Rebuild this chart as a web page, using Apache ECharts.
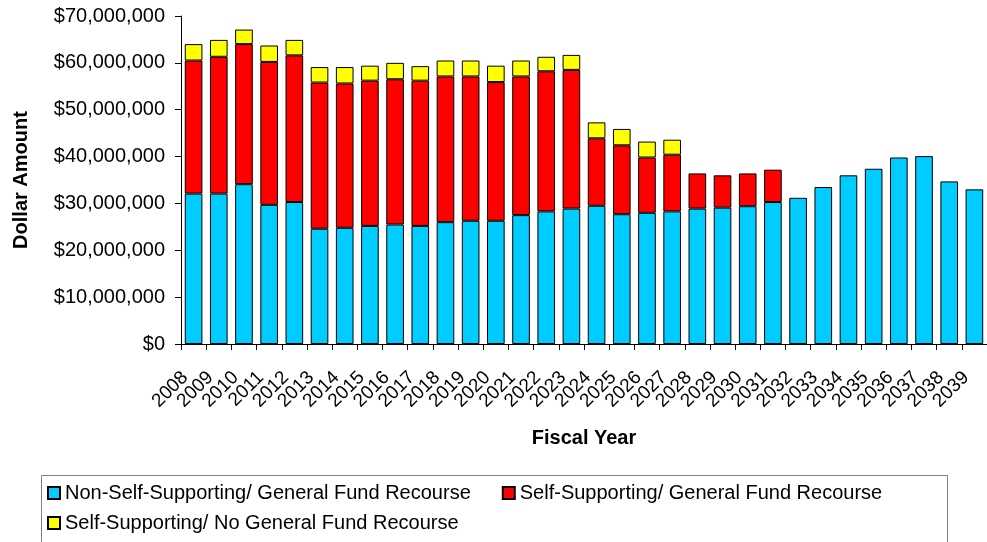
<!DOCTYPE html>
<html>
<head>
<meta charset="utf-8">
<script src="https://cdn.jsdelivr.net/npm/echarts@6/dist/echarts.min.js"></script>
<style>
  html, body { margin: 0; padding: 0; background: #fff; }
  #chart { width: 987px; height: 542px; }
</style>
</head>
<body>
<div id="chart"></div>
<script>
// fiscal years
var years = ['2008', '2009', '2010', '2011', '2012', '2013', '2014', '2015', '2016', '2017',
  '2018', '2019', '2020', '2021', '2022', '2023', '2024', '2025', '2026', '2027',
  '2028', '2029', '2030', '2031', '2032', '2033', '2034', '2035', '2036', '2037',
  '2038', '2039']

// values in millions of dollars
var nonSelfGF = [32.1, 32.1, 34.1, 29.7, 30.3, 24.6, 24.8, 25.2, 25.5, 25.2,
  26.0, 26.3, 26.3, 27.5, 28.3, 28.9, 29.5, 27.7, 28.0, 28.3,
  28.9, 29.1, 29.4, 30.3, 31.2, 33.5, 36.0, 37.4, 39.8, 40.1,
  34.7, 33.0]
var selfGF = [28.4, 29.2, 29.9, 30.5, 31.3, 31.2, 30.8, 31.0, 31.0, 31.0,
  31.1, 30.8, 29.6, 29.6, 29.9, 29.6, 14.4, 14.7, 11.8, 12.1,
  7.5, 6.9, 7.0, 6.9, null, null, null, null, null, null,
  null, null]
var selfNoGF = [3.5, 3.6, 3.1, 3.5, 3.3, 3.3, 3.5, 3.2, 3.5, 3.1,
  3.4, 3.4, 3.5, 3.4, 3.1, 3.2, 3.4, 3.5, 3.4, 3.2,
  null, null, null, null, null, null, null, null, null, null,
  null, null]

var seriesNames = ['Non-Self-Supporting/ General Fund Recourse',
  'Self-Supporting/ General Fund Recourse',
  'Self-Supporting/ No General Fund Recourse']

function toDollars(arr) {
  return arr.map(function (v) { return v == null ? '-' : v * 1000000 })
}

var font = 'Liberation Sans, Arial, sans-serif'

var legendBase = {
  left: 42,
  itemWidth: 12,
  itemHeight: 12,
  icon: 'rect',
  textStyle: { fontSize: 20, fontFamily: font, color: '#000' }
}

var myechart = echarts.init(document.getElementById('chart'))
var option = {
  backgroundColor: '#ffffff',
  animation: false,
  textStyle: { fontFamily: font, color: '#000' },
  grid: {
    left: 181,
    right: -6,
    top: 16,
    bottom: 198,
    containLabel: false
  },
  // two legends so the rows keep excel's spacing
  legend: [
    Object.assign({}, legendBase, { top: 478, itemGap: 31, data: seriesNames.slice(0, 2) }),
    Object.assign({}, legendBase, { top: 508, data: seriesNames.slice(2) })
  ],
  graphic: [{
    type: 'rect',
    shape: { x: 41.5, y: 475.5, width: 906, height: 90 },
    style: { fill: 'none', stroke: '#808080', lineWidth: 1 },
    silent: true
  }],
  xAxis: {
    type: 'category',
    data: years,
    name: 'Fiscal Year',
    nameLocation: 'middle',
    nameGap: 84,
    nameTextStyle: { fontSize: 20, fontWeight: 'bold', fontFamily: font, color: '#000' },
    axisLine: { lineStyle: { color: '#000', width: 1 } },
    axisTick: { show: true, length: 6, lineStyle: { color: '#000' } },
    axisLabel: {
      interval: 0,
      rotate: 45,
      margin: 22,
      padding: [0, 12, 0, 0],
      fontSize: 19,
      fontFamily: font,
      color: '#000'
    },
    splitLine: { show: false }
  },
  yAxis: {
    type: 'value',
    min: 0,
    max: 70000000,
    interval: 10000000,
    name: 'Dollar Amount',
    nameLocation: 'middle',
    nameGap: 150,
    nameTextStyle: { fontSize: 20, fontWeight: 'bold', fontFamily: font, color: '#000' },
    axisLine: { show: true, lineStyle: { color: '#000', width: 1 } },
    axisTick: { show: true, length: 6, lineStyle: { color: '#000' } },
    axisLabel: {
      margin: 16,
      fontSize: 20,
      fontFamily: font,
      color: '#000',
      formatter: function (v) { return '$' + v.toLocaleString('en-US') }
    },
    splitLine: { show: false }
  },
  series: [
    {
      name: seriesNames[0],
      type: 'bar',
      stack: 'debt',
      barCategoryGap: '30%',
      data: toDollars(nonSelfGF),
      itemStyle: { color: '#00CCFF', borderColor: '#000', borderWidth: 1 }
    },
    {
      name: seriesNames[1],
      type: 'bar',
      stack: 'debt',
      data: toDollars(selfGF),
      itemStyle: { color: '#FF0000', borderColor: '#000', borderWidth: 1 }
    },
    {
      name: seriesNames[2],
      type: 'bar',
      stack: 'debt',
      data: toDollars(selfNoGF),
      itemStyle: { color: '#FFFF00', borderColor: '#000', borderWidth: 1 }
    }
  ]
}
myechart.setOption(option)
</script>
</body>
</html>
